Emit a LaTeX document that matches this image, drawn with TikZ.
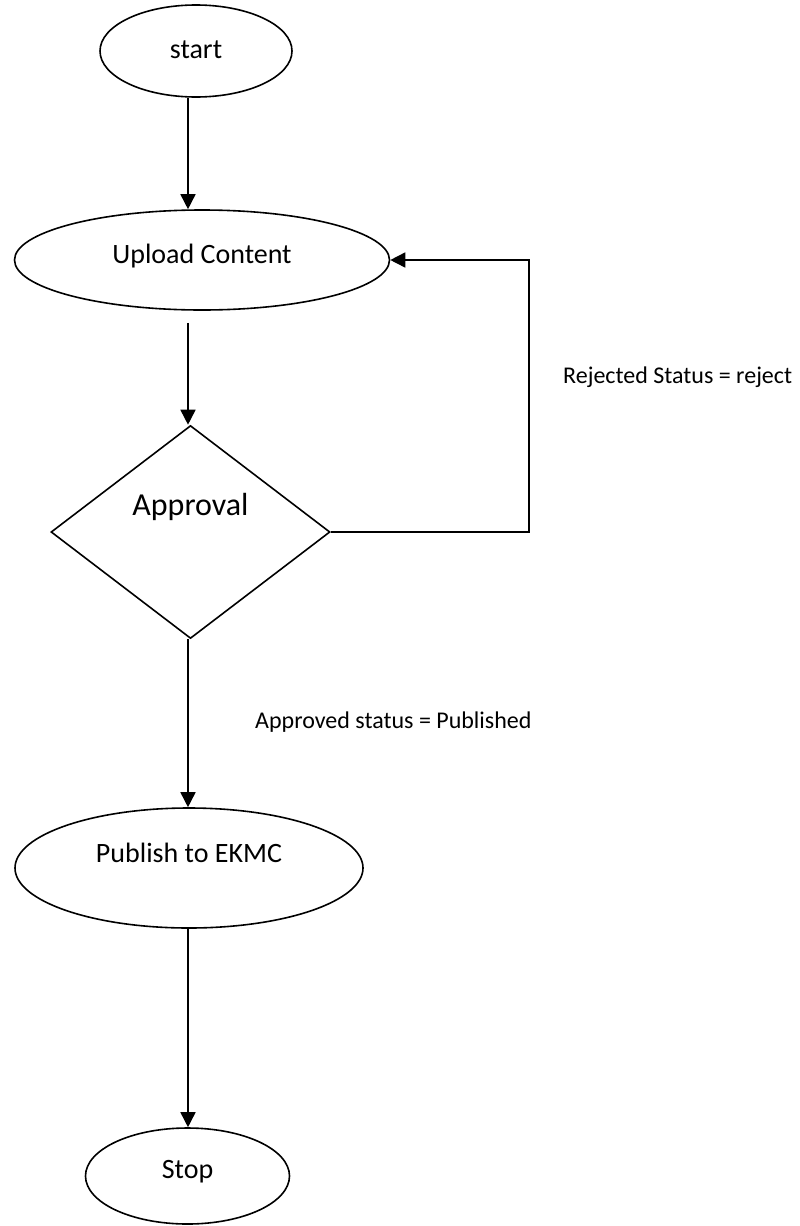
\documentclass[tikz,border=0pt]{standalone}
\usepackage{fontspec}
\setmainfont{Carlito}
\usepackage{tikz}
\usetikzlibrary{shapes.geometric}
\usetikzlibrary{arrows.meta}

\begin{document}
\begin{tikzpicture}[x=100pt, y=100pt,
    terminal/.style={ellipse, draw, line width=1.6pt, inner sep=0, text height=20pt, font=\fontsize{28}{32}\selectfont},
    decision/.style={diamond, draw, line width=1.6pt, inner sep=0, text height=20pt, font=\fontsize{32}{36}\selectfont},
    flow/.style={line width=1.6pt, -{Triangle[length=15pt, width=15pt]}},
    status/.style={anchor=west, inner sep=0, font=\fontsize{24}{28}\selectfont}]
        \useasboundingbox (0, 0) rectangle (8, -12.26);

        \node (start) [terminal, minimum width=192pt, minimum height=92pt, text depth=6pt] at (1.96, -0.51) {start};
        \node (upload) [terminal, minimum width=375pt, minimum height=100pt, text depth=14pt] at (2.02, -2.60) {Upload Content};
        \node (approval) [decision, minimum width=279pt, minimum height=213pt, text depth=53pt] at (1.905, -5.32) {Approval};
        \node (publish) [terminal, minimum width=348pt, minimum height=120pt, text depth=32pt] at (1.89, -8.68) {Publish to EKMC};
        \node (stop) [terminal, minimum width=204pt, minimum height=96pt, text depth=16pt] at (1.875, -11.76) {Stop};

        \node (rejected) [status] at (5.63, -3.77) {Rejected Status = reject};
        \node (approved) [status] at (2.55, -7.22) {Approved status = Published};

        % the main flow runs down one column
        \coordinate (axis) at (1.88, 0);
        \draw[flow] (start.south -| axis) -- (upload.north -| axis);
        \draw[flow, shorten <=12pt] (upload.south -| axis) -- (approval.north -| axis);
        \draw[flow] (approval.south -| axis) -- (publish.north -| axis);
        \draw[flow] (publish.south -| axis) -- (stop.north -| axis);

        % rejected content goes back to upload
        \draw[flow] (approval.east) -- ++(1.98, 0) |- (upload.east);
      \end{tikzpicture}
\end{document}
